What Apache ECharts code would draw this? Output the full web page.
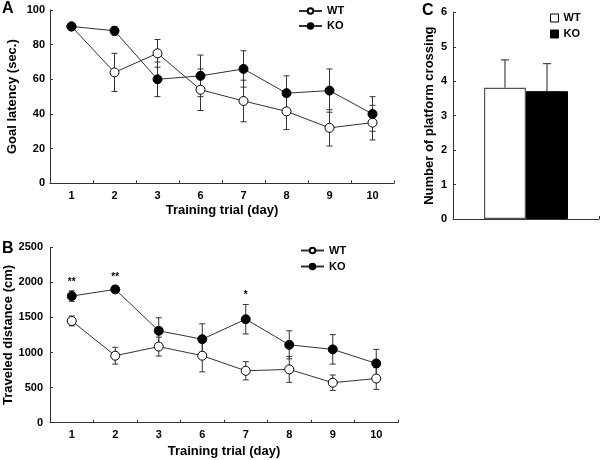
<!DOCTYPE html>
<html><head><meta charset="utf-8">
<script src="https://cdn.jsdelivr.net/npm/echarts@6/dist/echarts.min.js"></script>
<style>html,body{margin:0;padding:0;background:#fff}#c{width:600px;height:460px}</style>
</head><body><div id="c"></div>
<script>
// ---- data ----
const days = ['1','2','3','6','7','8','9','10'];
const latencyWT = [90.5, 64, 75, 54, 47.5, 41.5, 32, 35];
const latencyWTErr = [1, 11, 8, 12, 12, 10.5, 10.5, 10];
const latencyKO = [90.5, 88, 60, 62, 66, 52, 53.5, 40];
const latencyKOErr = [1, 2.5, 10, 12, 10.5, 10, 12.5, 10];
const distanceWT = [1450, 955, 1085, 955, 740, 760, 570, 630];
const distanceWTErr = [70, 120, 135, 230, 130, 185, 110, 155];
const distanceKO = [1805, 1900, 1310, 1190, 1475, 1110, 1045, 845];
const distanceKOErr = [75, 50, 185, 220, 210, 200, 210, 200];
const sigLabels = ['**','**','','','*','','',''];
const groups = ['WT','KO'];
const crossingMean = [3.81, 3.71];
const crossingErr = [0.81, 0.80];

// ---- style ----
const FONT = "'Liberation Sans', Arial, sans-serif";
const AX = '#333';
const BAR_W = 42;

function errData(mean, err){ return mean.map((m,i)=>[i, m-err[i], m+err[i]]); }
function errRender(params, api){
  const i = api.value(0);
  const lo = api.coord([i, api.value(1)]);
  const hi = api.coord([i, api.value(2)]);
  const w = 3;
  const st = {stroke:'#333', lineWidth:1};
  return {type:'group', children:[
    {type:'line', shape:{x1:lo[0],y1:lo[1],x2:hi[0],y2:hi[1]}, style:st},
    {type:'line', shape:{x1:hi[0]-w,y1:hi[1],x2:hi[0]+w,y2:hi[1]}, style:st},
    {type:'line', shape:{x1:lo[0]-w,y1:lo[1],x2:lo[0]+w,y2:lo[1]}, style:st}
  ]};
}
function barErrRender(params, api){
  const g = api.value(3);
  const off = (g === 0 ? -1 : 1) * BAR_W/2;
  const lo = api.coord([0, api.value(1)]);
  const hi = api.coord([0, api.value(2)]);
  const x = lo[0] + off;
  const st = {stroke:'#444', lineWidth:1.2};
  return {type:'group', children:[
    {type:'line', shape:{x1:x,y1:lo[1],x2:x,y2:hi[1]}, style:st},
    {type:'line', shape:{x1:x-4,y1:hi[1],x2:x+4,y2:hi[1]}, style:st}
  ]};
}
function sigRender(params, api){
  const i = api.value(0);
  const txt = sigLabels[i];
  if(!txt) return null;
  const p = api.coord([i, api.value(1)]);
  return {type:'text', style:{text:txt, x:p[0], y:p[1]-4, textAlign:'center', textVerticalAlign:'bottom',
    fontSize:10, fontWeight:'bold', fontFamily:FONT, fill:'#000'}};
}

const axisLbl = {color:'#000', fontSize:11, fontWeight:'bold', fontFamily:FONT};
const nameSt = {color:'#000', fontSize:13, fontWeight:'bold', fontFamily:FONT};
const axLine = {show:true, lineStyle:{color:AX, width:1}};
const axTick = {show:true, inside:true, length:3, lineStyle:{color:AX}};

function catAxis(gi, gap){
  return {type:'category', gridIndex:gi, data:days, boundaryGap:true,
    axisLine:axLine, axisTick:axTick, axisLabel:Object.assign({margin:7}, axisLbl),
    name:'Training trial (day)', nameLocation:'middle', nameGap:gap, nameTextStyle:nameSt,
    nameMoveOverlap:false, splitLine:{show:false}};
}
function valAxis(gi, max, interval, name, gap, margin){
  return {type:'value', gridIndex:gi, min:0, max:max, interval:interval,
    axisLine:axLine, axisTick:axTick,
    axisLabel:Object.assign({margin:margin, formatter:(v)=>String(v)}, axisLbl),
    name:name, nameLocation:'middle', nameGap:gap, nameTextStyle:nameSt,
    nameMoveOverlap:false, splitLine:{show:false}};
}
function lineSeries(name, data, xi, filled){
  return {type:'line', name:name, xAxisIndex:xi, yAxisIndex:xi, data:data,
    symbol:'circle', symbolSize:9, z:5,
    lineStyle:{color:'#333', width:1},
    itemStyle:{color: filled ? '#000' : '#fff', borderColor:'#000', borderWidth:1}};
}
function errSeries(data, xi){
  return {type:'custom', xAxisIndex:xi, yAxisIndex:xi, data:data, renderItem:errRender, z:3, silent:true};
}

const legendText = {color:'#000', fontSize:11, fontWeight:'bold', fontFamily:FONT};
const option = {
  animation:false,
  backgroundColor:'#fff',
  grid:[
    {left:50, top:10, width:344, height:173.3, outerBoundsMode:'none', containLabel:false},
    {left:50, top:247.3, width:348, height:175.4, outerBoundsMode:'none', containLabel:false},
    {left:453, top:12.3, width:146, height:206.7, outerBoundsMode:'none', containLabel:false}
  ],
  xAxis:[
    catAxis(0, 21),
    catAxis(1, 22),
    {type:'category', gridIndex:2, data:[''], boundaryGap:true,
      axisLine:axLine, axisTick:axTick, axisLabel:{show:false}, splitLine:{show:false}}
  ],
  yAxis:[
    valAxis(0, 100, 20, 'Goal latency (sec.)', 31, 5),
    valAxis(1, 2500, 500, 'Traveled distance (cm)', 35, 7),
    valAxis(2, 6, 1, 'Number of platform crossing', 17, 6)
  ],
  legend:[
    {data:['WT','KO'], orient:'vertical', left:298, top:5.5, padding:0, itemWidth:23, itemHeight:7, itemGap:4,
      textStyle:legendText, selectedMode:false},
    {data:['WT','KO'], orient:'vertical', left:300, top:245, padding:0, itemWidth:23, itemHeight:7, itemGap:5,
      textStyle:legendText, selectedMode:false},
    {data:[
        {name:'WT', icon:'rect', itemStyle:{color:'#fff', borderColor:'#000', borderWidth:1}},
        {name:'KO', icon:'rect', itemStyle:{color:'#000', borderColor:'#000', borderWidth:1}}
      ], orient:'vertical', left:550, top:12.5, padding:0, itemWidth:8, itemHeight:8, itemGap:5,
      textStyle:legendText, selectedMode:false}
  ],
  graphic:[
    {type:'text', left:2, top:1, style:{text:'A', fontSize:16, fontWeight:'bold', fontFamily:FONT, fill:'#000'}},
    {type:'text', left:2, top:241, style:{text:'B', fontSize:16, fontWeight:'bold', fontFamily:FONT, fill:'#000'}},
    {type:'text', left:422, top:3, style:{text:'C', fontSize:16, fontWeight:'bold', fontFamily:FONT, fill:'#000'}}
  ],
  series:[
    lineSeries('WT', latencyWT, 0, false),
    lineSeries('KO', latencyKO, 0, true),
    lineSeries('WT', distanceWT, 1, false),
    lineSeries('KO', distanceKO, 1, true),
    errSeries(errData(latencyWT, latencyWTErr), 0),
    errSeries(errData(latencyKO, latencyKOErr), 0),
    errSeries(errData(distanceWT, distanceWTErr), 1),
    errSeries(errData(distanceKO, distanceKOErr), 1),
    {type:'custom', xAxisIndex:1, yAxisIndex:1, silent:true,
      data:distanceKO.map((m,i)=>[i, m+distanceKOErr[i]]), renderItem:sigRender, z:6},
    {type:'bar', name:'WT', xAxisIndex:2, yAxisIndex:2, data:[crossingMean[0]], barWidth:BAR_W, barGap:0,
      itemStyle:{color:'#fff', borderColor:'#555', borderWidth:1.2}, z:2},
    {type:'bar', name:'KO', xAxisIndex:2, yAxisIndex:2, data:[crossingMean[1]], barWidth:BAR_W, barGap:0,
      itemStyle:{color:'#000', borderColor:'#000', borderWidth:1}, z:2},
    {type:'custom', xAxisIndex:2, yAxisIndex:2, silent:true, z:1,
      data:groups.map((g,i)=>[0, crossingMean[i], crossingMean[i]+crossingErr[i], i]), renderItem:barErrRender}
  ]
};
const chart = echarts.init(document.getElementById('c'));
chart.setOption(option);
</script></body></html>
